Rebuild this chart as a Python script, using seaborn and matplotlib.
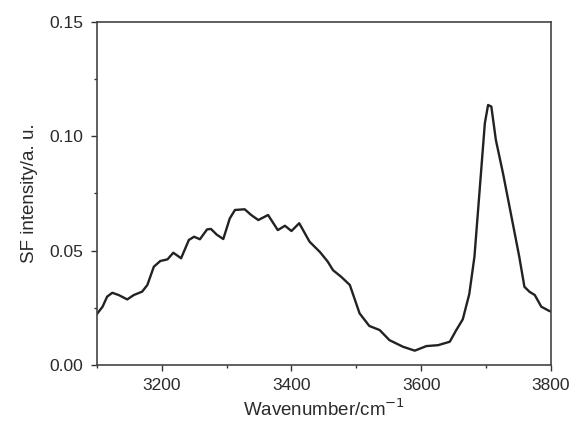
import matplotlib
matplotlib.use("Agg")
import matplotlib.pyplot as plt
from matplotlib.ticker import MultipleLocator, FormatStrFormatter
import seaborn as sns
import pandas as pd

# SF spectrum: wavenumber (cm^-1) and intensity (a. u.)
wavenumber = [
    3100, 3109, 3116, 3124, 3134, 3147, 3157, 3170, 3178, 3188,
    3198, 3209, 3218, 3230, 3242, 3250, 3259, 3270, 3276, 3285,
    3295, 3305, 3313, 3328, 3338, 3349, 3364, 3379, 3390, 3400,
    3412, 3428, 3444, 3456, 3464, 3477, 3490, 3505, 3520, 3536,
    3551, 3572, 3590, 3608, 3626, 3644, 3654, 3664, 3674, 3682,
    3690, 3698, 3703, 3708, 3715, 3726, 3741, 3751, 3759, 3767,
    3775, 3785, 3797, 3800,
]
intensity = [
    0.0222, 0.0255, 0.0299, 0.0316, 0.0306, 0.0287, 0.0306, 0.0321, 0.0350, 0.0430,
    0.0455, 0.0462, 0.0491, 0.0467, 0.0547, 0.0561, 0.0550, 0.0593, 0.0595, 0.0570,
    0.0551, 0.0641, 0.0678, 0.0681, 0.0656, 0.0634, 0.0656, 0.0590, 0.0609, 0.0586,
    0.0620, 0.0539, 0.0494, 0.0452, 0.0415, 0.0385, 0.0350, 0.0226, 0.0171, 0.0153,
    0.0109, 0.0080, 0.0063, 0.0083, 0.0087, 0.0102, 0.0153, 0.0200, 0.0310, 0.0474,
    0.0765, 0.1057, 0.1137, 0.1130, 0.0984, 0.0838, 0.0620, 0.0474, 0.0342, 0.0320,
    0.0306, 0.0255, 0.0237, 0.0234,
]

x_major = [3200, 3400, 3600, 3800]
y_major = [0.00, 0.05, 0.10, 0.15]

sns.set_style("ticks")
plt.rcParams["font.family"] = ["Liberation Sans", "DejaVu Sans"]

df = pd.DataFrame({"Wavenumber": wavenumber, "Intensity": intensity})

fig = plt.figure(figsize=(5.74, 4.30), dpi=100)
ax = fig.add_axes([0.1685, 0.151, 0.7915, 0.798])

sns.lineplot(data=df, x="Wavenumber", y="Intensity", ax=ax,
             color="#222222", linewidth=1.7)
ax.lines[0].set_solid_joinstyle("round")

ax.set_xlim(3100, 3800)
ax.set_ylim(0.0, 0.15)
ax.set_xticks(x_major)
ax.set_yticks(y_major)
ax.xaxis.set_minor_locator(MultipleLocator(100))
ax.yaxis.set_minor_locator(MultipleLocator(0.025))
ax.yaxis.set_major_formatter(FormatStrFormatter("%.2f"))

text_color = "#2a2a2a"
ax.tick_params(axis="both", which="major", direction="out", length=4.5,
               width=1.0, labelsize=12.5, colors="#333333", labelcolor=text_color, pad=5)
ax.tick_params(axis="both", which="minor", direction="out", length=2.5,
               width=1.0, colors="#333333")

for side in ["left", "right", "top", "bottom"]:
    ax.spines[side].set_visible(True)
    ax.spines[side].set_linewidth(1.2)
    ax.spines[side].set_color("#444444")

ax.set_xlabel("Wavenumber/cm$^{-1}$", fontsize=13.5, color=text_color, labelpad=4)
ax.set_ylabel("SF intensity/a. u.", fontsize=13.5, color=text_color, labelpad=8)

fig.savefig("out.png", dpi=100, facecolor="white")
